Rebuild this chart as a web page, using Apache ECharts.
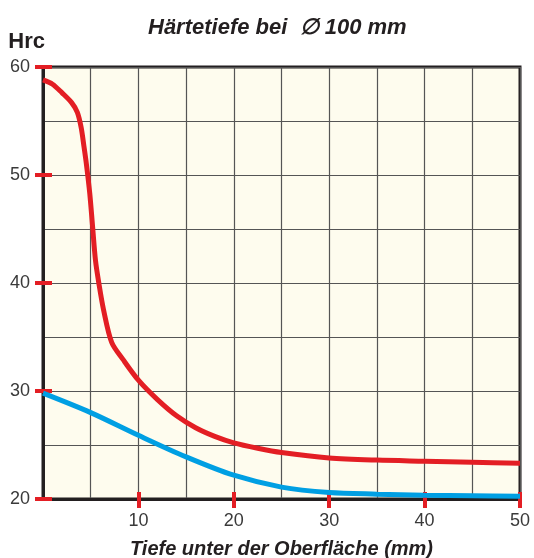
<!DOCTYPE html>
<html>
<head>
<meta charset="utf-8">
<script src="https://cdn.jsdelivr.net/npm/echarts@6/dist/echarts.min.js"></script>
<style>
  html, body { margin: 0; padding: 0; background: #fff; }
  #chart { width: 534px; height: 558px; }
</style>
</head>
<body>
<div id="chart"></div>
<script>
// Tiefe (mm) / Härte (Hrc)
const redDepth = [0, 1, 2, 3, 3.6, 4.0, 4.3, 4.55, 4.9, 5.2, 5.5, 5.85, 6.35, 7.2, 8.4, 10, 12, 14, 16, 18, 20, 22.5, 25, 30, 35, 40, 45, 50]
const redHrc = [58.8, 58.4, 57.6, 56.7, 55.8, 54.4, 52.6, 51.0, 48.3, 45.2, 42.1, 40.0, 37.5, 34.5, 32.9, 31.0, 29.2, 27.7, 26.6, 25.8, 25.2, 24.7, 24.3, 23.8, 23.6, 23.5, 23.4, 23.3]
const blueDepth = [0, 5, 10, 15, 20, 25, 30, 35, 40, 45, 50]
const blueHrc = [29.8, 28.0, 25.9, 23.9, 22.2, 21.1, 20.6, 20.45, 20.35, 20.3, 20.25]
const xTicks = [10, 20, 30, 40, 50]
const yTicks = [20, 30, 40, 50, 60]

const chart = echarts.init(document.getElementById('chart'))

const zip = (xs, ys) => xs.map((x, i) => [x, ys[i]])
const tickRed = '#e31e24'
const gridLine = { show: true, lineStyle: { color: '#555', width: 1.2 } }
const labelFont = { fontFamily: 'Liberation Sans', fontSize: 18, color: '#3a3a3a' }

const option = {
  animation: false,
  title: {
    text: 'Härtetiefe bei  ∅ 100 mm',
    left: 143,
    top: 12,
    textStyle: {
      fontFamily: 'Liberation Sans',
      fontSize: 22,
      fontWeight: 'bold',
      fontStyle: 'italic',
      color: '#231f20'
    }
  },
  grid: {
    left: 43,
    right: 14,
    top: 67,
    bottom: 59,
    outerBoundsMode: 'none',
    containLabel: false,
    show: true,
    backgroundColor: '#fefcee',
    borderColor: '#231f20',
    borderWidth: 3
  },
  xAxis: [
    {
      type: 'value',
      min: 0,
      max: 50,
      interval: 10,
      name: 'Tiefe unter der Oberfläche (mm)',
      nameLocation: 'middle',
      nameGap: 40,
      nameTextStyle: {
        fontFamily: 'Liberation Sans',
        fontSize: 20,
        fontWeight: 'bold',
        fontStyle: 'italic',
        color: '#231f20'
      },
      axisLine: { show: true, lineStyle: { color: '#231f20', width: 3 } },
      axisTick: { show: true, length: 9, customValues: xTicks, lineStyle: { color: tickRed, width: 4 } },
      axisLabel: Object.assign({ margin: 13, customValues: xTicks }, labelFont),
      splitLine: gridLine,
      minorTick: { show: false, splitNumber: 2 },
      minorSplitLine: gridLine
    },
    {
      type: 'value',
      min: 0,
      max: 50,
      interval: 10,
      position: 'bottom',
      axisLine: { show: false },
      axisTick: { show: true, inside: true, length: 7, customValues: xTicks, lineStyle: { color: tickRed, width: 4 } },
      axisLabel: { show: false },
      splitLine: { show: false }
    }
  ],
  yAxis: [
    {
      type: 'value',
      min: 20,
      max: 60,
      interval: 10,
      name: 'Hrc',
      nameGap: 14,
      nameTextStyle: {
        fontFamily: 'Liberation Sans',
        fontSize: 22,
        fontWeight: 'bold',
        color: '#231f20',
        align: 'right',
        padding: [0, -2, 0, 0]
      },
      axisLine: { show: true, lineStyle: { color: '#231f20', width: 3 } },
      axisTick: { show: true, length: 8, customValues: yTicks, lineStyle: { color: tickRed, width: 4 } },
      axisLabel: Object.assign({ margin: 13, customValues: yTicks }, labelFont),
      splitLine: gridLine,
      minorTick: { show: false, splitNumber: 2 },
      minorSplitLine: gridLine
    },
    {
      type: 'value',
      min: 20,
      max: 60,
      interval: 10,
      position: 'left',
      axisLine: { show: false },
      axisTick: { show: true, inside: true, length: 9, customValues: yTicks, lineStyle: { color: tickRed, width: 4 } },
      axisLabel: { show: false },
      splitLine: { show: false }
    }
  ],
  series: [
    {
      name: 'rot',
      type: 'line',
      data: zip(redDepth, redHrc),
      smooth: 0.3,
      showSymbol: false,
      lineStyle: { color: '#e31e24', width: 5 },
      z: 3
    },
    {
      name: 'blau',
      type: 'line',
      data: zip(blueDepth, blueHrc),
      smooth: 0.3,
      showSymbol: false,
      lineStyle: { color: '#009fe3', width: 5 },
      z: 3
    }
  ]
}

chart.setOption(option)
</script>
</body>
</html>
